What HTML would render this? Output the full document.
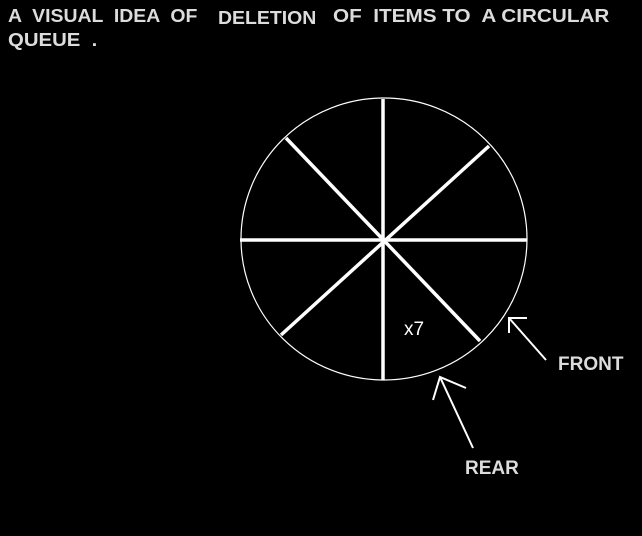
<!DOCTYPE html>
<html><head><style>
body{margin:0;width:642px;height:536px;background:#000;overflow:hidden;position:relative;font-family:"Liberation Sans",sans-serif;font-weight:bold;color:#dcdcdc}
.t{position:absolute;font-size:18px;white-space:pre;transform-origin:0 0}
</style></head><body>
<div class="t" style="left:8px;top:6px;transform:scaleX(1.08)">A  VISUAL  IDEA  OF</div>
<div class="t" style="left:218px;top:8px;transform:scaleX(1.08)">DELETION</div>
<div class="t" style="left:333px;top:6px;transform:scaleX(1.15)">OF  ITEMS TO  A CIRCULAR</div>
<div class="t" style="left:8px;top:30px;transform:scaleX(1.13)">QUEUE  .</div>
<svg width="642" height="536" style="position:absolute;left:0;top:0">
<ellipse cx="384" cy="239" rx="143" ry="141" fill="none" stroke="#fff" stroke-width="1.2"/>
<g stroke="#fff" stroke-width="3.5">
<line x1="383" y1="99" x2="383" y2="380"/>
<line x1="240" y1="240" x2="527" y2="240"/>
<line x1="286" y1="138" x2="480" y2="341"/>
<line x1="489" y1="146" x2="281" y2="335"/>
</g>
<g stroke="#fff" stroke-width="2" fill="none">
<line x1="546" y1="360" x2="509" y2="318"/>
<polyline points="527,318 509,318 509,333"/>
<line x1="473" y1="448" x2="440" y2="377"/>
<polyline points="466,388 440,377 433,400"/>
</g>
<text x="404" y="335" fill="#fff" font-size="19" font-family="Liberation Sans" font-weight="normal">x7</text>
<text x="558" y="370" fill="#dcdcdc" font-size="19" font-family="Liberation Sans" font-weight="bold">FRONT</text>
<text x="465" y="474" fill="#dcdcdc" font-size="19" font-family="Liberation Sans" font-weight="bold">REAR</text>
</svg>
</body></html>
